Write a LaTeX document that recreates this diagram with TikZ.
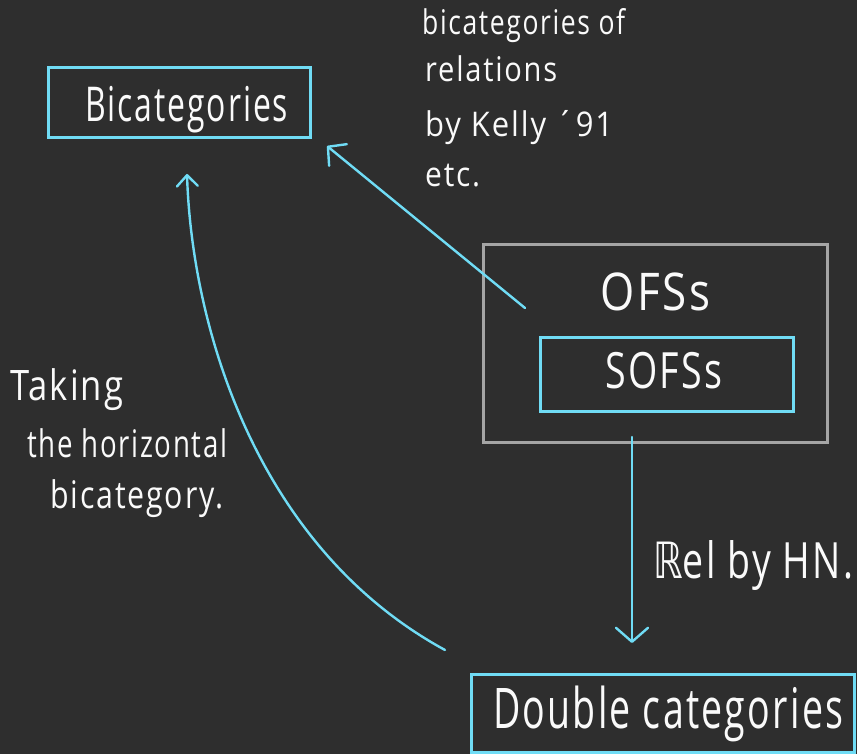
\documentclass[tikz,border=0pt]{standalone}
\usepackage{fontspec}
\usepackage{graphicx}
\setmainfont{Open Sans}
\newfontfamily\symfont{DejaVu Sans}
\usetikzlibrary{arrows.meta}
\definecolor{bg}{RGB}{46,46,46}
\definecolor{cyanline}{RGB}{112,220,245}
\definecolor{greyline}{RGB}{165,165,165}
\definecolor{chalk}{RGB}{250,250,250}
% #1 font size, #2 target width, #3 text
\newcommand{\hw}[3]{\resizebox{#2pt}{\height}{\fontsize{#1}{#1}\selectfont\addfontfeature{LetterSpace=6}#3}}
\tikzset{
  box/.style={draw=cyanline, line width=3pt, inner sep=0pt},
  frame/.style={draw=greyline, line width=3pt, inner sep=0pt},
  hand/.style={text=chalk, inner sep=0pt, anchor=base west},
  link/.style={draw=cyanline, line width=2.4pt, line cap=round},
}
\begin{document}
\begin{tikzpicture}[x=1pt,y=-1pt]
  \fill[bg] (0,0) rectangle (857,754);
  \useasboundingbox (0,0) rectangle (857,754);

  % boxes
  \node[box, minimum width=262pt, minimum height=70pt] (bicat) at (179,103) {};
  \node[frame, minimum width=344pt, minimum height=197pt] (ofs) at (655,343.5) {};
  \node[box, minimum width=253pt, minimum height=74pt] (sofs) at (666.5,374) {};
  \node[box, minimum width=383pt, minimum height=78pt] (dbl) at (662.5,713) {};

  % box titles
  \node[hand] (bicatT) at (85,122) {\hw{48}{203}{Bicategories}};
  \node[hand] (ofsT) at (600,310) {\hw{52}{110}{OFSs}};
  \node[hand] (sofsT) at (605,388) {\hw{50}{117}{SOFSs}};
  \node[hand] (dblT) at (493,728) {\hw{56}{350}{Double categories}};

  % annotations
  \node[hand] (k1) at (422,35) {\hw{34}{203}{bicategories of}};
  \node[hand] (k2) at (425,82) {\hw{34}{132}{relations}};
  \node[hand] (k3) at (425,137) {\hw{34}{188}{by Kelly ´91}};
  \node[hand] (k4) at (425,187) {\hw{34}{55}{etc.}};

  \node[hand] (rel) at (653,578) {\hw{50}{200}{{\symfont ℝ}el by HN.}};

  \node[hand] (t1) at (10,400) {\hw{42}{113}{Taking}};
  \node[hand] (t2) at (27,457) {\hw{38}{200}{the horizontal}};
  \node[hand] (t3) at (50,508) {\hw{38}{173}{bicategory.}};

  % connector end points
  \coordinate (dStart) at (525,308);
  \coordinate (dEnd) at (327,146);
  \coordinate (vStart) at (632,437);
  \coordinate (vEnd) at (632,643);
  \coordinate (cStart) at (445,650);
  \coordinate (cEnd) at (187,174);

  \draw[link, -{Straight Barb[length=13pt,width=28pt,round]}] (dStart) -- (dEnd);
  \draw[link, -{Straight Barb[length=14pt,width=32pt,round]}] (vStart) -- (vEnd);
  \draw[link, -{Straight Barb[length=11pt,width=21pt,round]}]
    (cStart) .. controls (258,548) and (192,330) .. (cEnd);
\end{tikzpicture}
\end{document}
